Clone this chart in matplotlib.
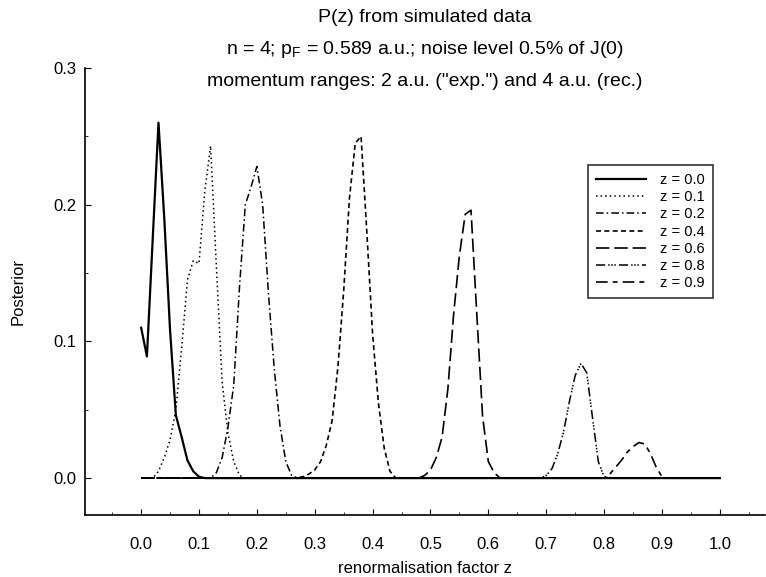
import matplotlib
matplotlib.use("Agg")
import matplotlib.pyplot as plt
from matplotlib.ticker import MultipleLocator, FormatStrFormatter

plt.rcParams['font.family'] = ['Liberation Sans', 'DejaVu Sans']

# z = 0.0
x_z00 = [0.00, 0.01, 0.02, 0.03, 0.04, 0.05, 0.06, 0.065, 0.07, 0.08, 0.09, 0.10, 0.11, 1.00]
y_z00 = [0.110, 0.089, 0.175, 0.260, 0.190, 0.108, 0.046, 0.038, 0.030, 0.013, 0.005, 0.001, 0.0, 0.0]
# z = 0.1
x_z01 = [0.00, 0.02, 0.03, 0.04, 0.05, 0.06, 0.07, 0.08, 0.09, 0.10, 0.11, 0.12, 0.13, 0.14, 0.15, 0.16, 0.17, 0.18, 1.00]
y_z01 = [0.0, 0.0, 0.005, 0.015, 0.028, 0.050, 0.095, 0.145, 0.159, 0.157, 0.210, 0.243, 0.155, 0.070, 0.033, 0.012, 0.002, 0.0, 0.0]
# z = 0.2
x_z02 = [0.00, 0.12, 0.13, 0.14, 0.15, 0.16, 0.17, 0.18, 0.19, 0.20, 0.21, 0.22, 0.23, 0.24, 0.25, 0.26, 0.27, 1.00]
y_z02 = [0.0, 0.0, 0.004, 0.015, 0.037, 0.068, 0.140, 0.200, 0.213, 0.228, 0.200, 0.135, 0.080, 0.038, 0.012, 0.002, 0.0, 0.0]
# z = 0.4
x_z04 = [0.00, 0.26, 0.27, 0.28, 0.29, 0.30, 0.31, 0.32, 0.33, 0.34, 0.35, 0.36, 0.37, 0.38, 0.39, 0.40, 0.41, 0.42, 0.43, 0.44, 1.00]
y_z04 = [0.0, 0.0, 0.0003, 0.001, 0.003, 0.006, 0.012, 0.024, 0.042, 0.081, 0.137, 0.205, 0.245, 0.250, 0.180, 0.105, 0.055, 0.022, 0.005, 0.0, 0.0]
# z = 0.6
x_z06 = [0.00, 0.48, 0.49, 0.50, 0.51, 0.52, 0.53, 0.54, 0.55, 0.56, 0.57, 0.58, 0.59, 0.60, 0.61, 0.62, 1.00]
y_z06 = [0.0, 0.0, 0.002, 0.006, 0.015, 0.030, 0.065, 0.120, 0.163, 0.193, 0.196, 0.120, 0.045, 0.012, 0.004, 0.0, 0.0]
# z = 0.8
x_z08 = [0.00, 0.69, 0.70, 0.71, 0.72, 0.73, 0.74, 0.75, 0.76, 0.77, 0.78, 0.79, 0.80, 0.81, 1.00]
y_z08 = [0.0, 0.0, 0.002, 0.007, 0.018, 0.034, 0.056, 0.075, 0.084, 0.077, 0.044, 0.012, 0.001, 0.0, 0.0]
# z = 0.9
x_z09 = [0.00, 0.80, 0.81, 0.82, 0.83, 0.84, 0.85, 0.86, 0.87, 0.88, 0.89, 0.90, 0.91, 1.00]
y_z09 = [0.0, 0.0, 0.003, 0.008, 0.013, 0.019, 0.023, 0.026, 0.025, 0.018, 0.008, 0.001, 0.0, 0.0]

labels = ["z = 0.0", "z = 0.1", "z = 0.2", "z = 0.4", "z = 0.6", "z = 0.8", "z = 0.9"]
x_ticks = [0.0, 0.1, 0.2, 0.3, 0.4, 0.5, 0.6, 0.7, 0.8, 0.9, 1.0]
y_ticks = [0.0, 0.1, 0.2, 0.3]

series = [(x_z00, y_z00), (x_z01, y_z01), (x_z02, y_z02), (x_z04, y_z04),
          (x_z06, y_z06), (x_z08, y_z08), (x_z09, y_z09)]
styles = ['-', (0, (1, 2)), (0, (5, 2, 1, 2)), (0, (3, 2)), (0, (8, 3)),
          (0, (6, 2, 1, 1, 1, 1, 1, 2)), (0, (7, 3, 3, 3))]
widths = [1.6, 1.1, 1.1, 1.2, 1.2, 1.1, 1.2]

fig = plt.figure(figsize=(7.66, 5.77), dpi=100)
ax = fig.add_axes([85/766, 1 - 515/577, 680/766, (515 - 68)/577])

order = [1, 2, 3, 4, 5, 6, 0]
handles = [None] * 7
for i in order:
    xs, ys = series[i]
    h, = ax.plot(xs, ys, color='black', linestyle=styles[i], linewidth=widths[i], label=labels[i])
    handles[i] = h

ax.set_xlim(-0.097, 1.078)
ax.set_ylim(-0.027, 0.3)
ax.set_xticks(x_ticks)
ax.set_yticks(y_ticks)
ax.xaxis.set_major_formatter(FormatStrFormatter('%.1f'))
ax.yaxis.set_major_formatter(FormatStrFormatter('%.1f'))
ax.xaxis.set_minor_locator(MultipleLocator(0.05))
ax.yaxis.set_minor_locator(MultipleLocator(0.05))
ax.tick_params(which='major', direction='in', length=4, width=0.8, labelsize=12, pad=16)
ax.tick_params(axis='y', which='major', pad=6)
ax.tick_params(which='minor', direction='in', length=2.5, width=0.6)
for s in ['top', 'right']:
    ax.spines[s].set_visible(False)
for s in ['left', 'bottom']:
    ax.spines[s].set_linewidth(1.2)

ax.set_xlabel('renormalisation factor z', fontsize=12, labelpad=6)
ax.set_ylabel('Posterior', fontsize=12, labelpad=20)

cx = (85 + 765) / 2 / 766
fig.text(cx, 1 - 18/577, 'P(z) from simulated data', ha='center', va='center', fontsize=14)
fig.text(cx, 1 - 49/577, r'n = 4; p$_\mathregular{F}$ = 0.589 a.u.; noise level 0.5% of J(0)',
         ha='center', va='center', fontsize=14)
fig.text(cx, 1 - 82/577, 'momentum ranges: 2 a.u. ("exp.") and 4 a.u. (rec.)',
         ha='center', va='center', fontsize=14)

leg = ax.legend(handles=handles, labels=labels, loc='upper left',
                bbox_to_anchor=(588/766, 1 - 165/577), bbox_transform=fig.transFigure,
                fontsize=10.5, frameon=True, fancybox=False, handlelength=3.4,
                labelspacing=0.22, borderpad=0.55, handletextpad=1.0, borderaxespad=0)
leg.get_frame().set_edgecolor('black')
leg.get_frame().set_linewidth(1.2)

fig.savefig('out.png', dpi=100)
